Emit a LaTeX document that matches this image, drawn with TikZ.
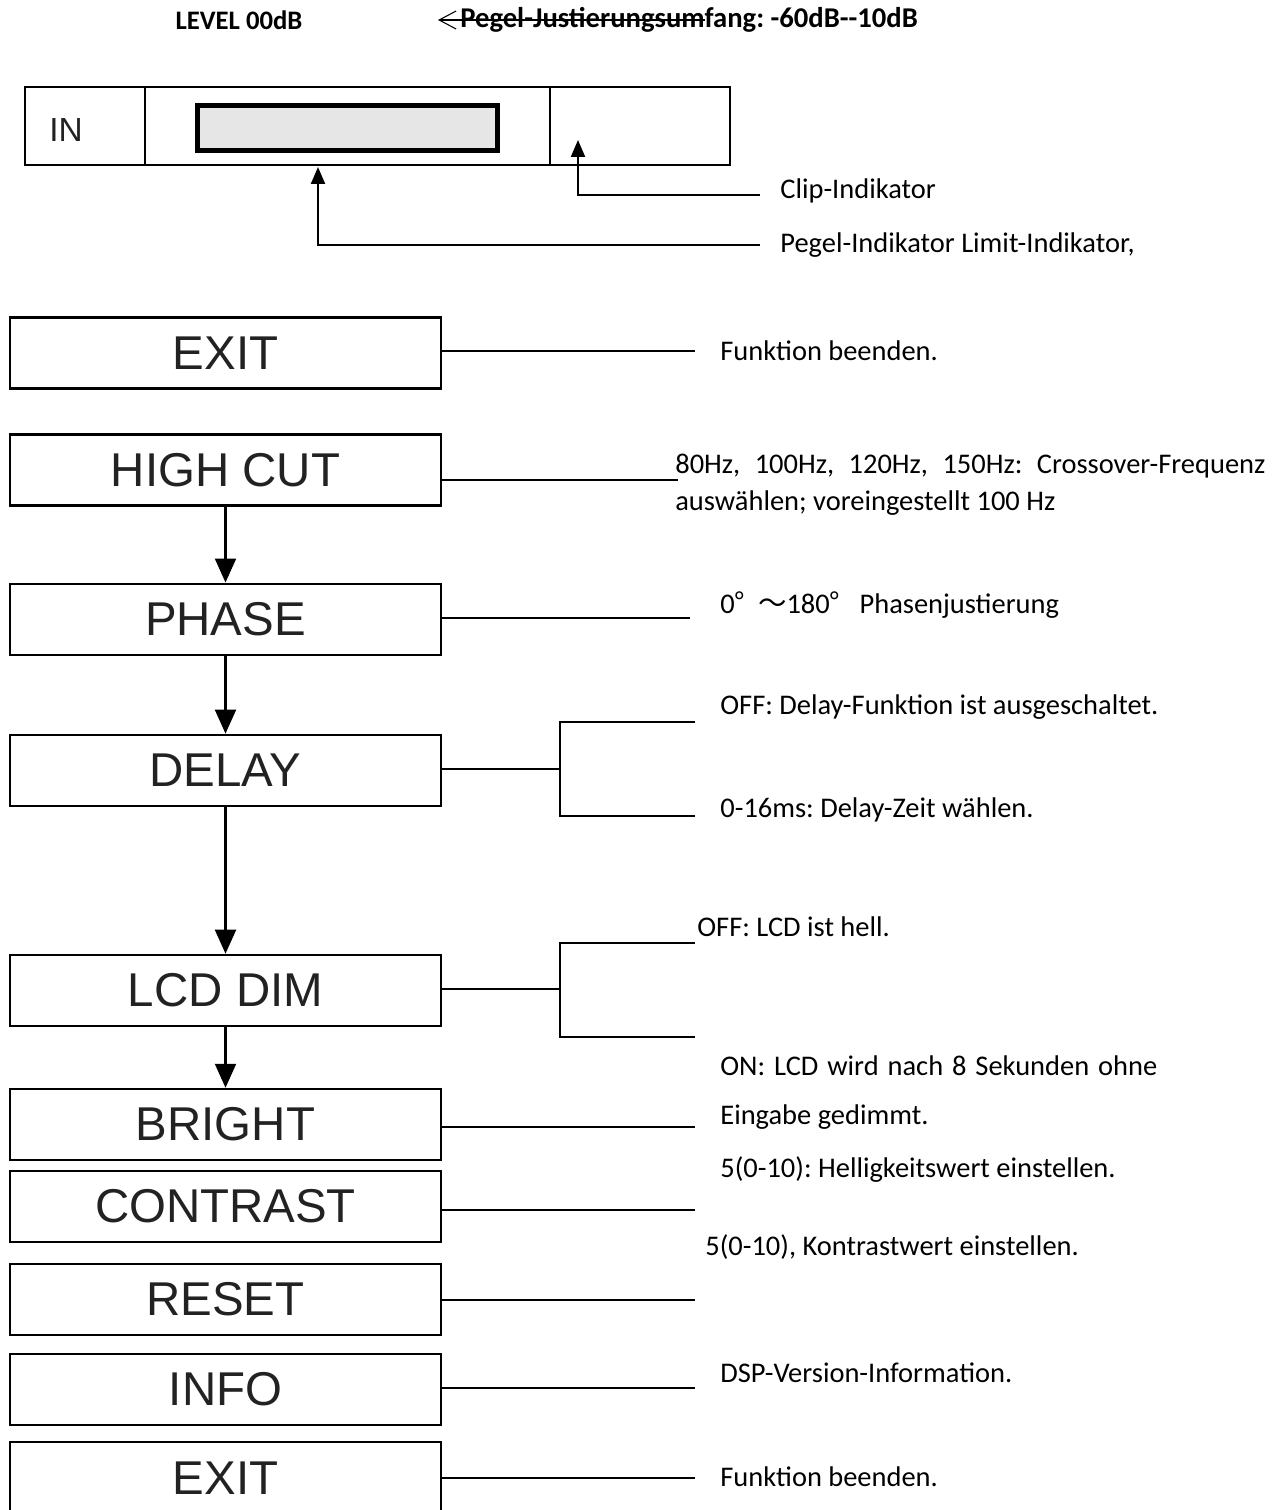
\documentclass[tikz,border=0pt]{standalone}
\usepackage{fontspec}
\setmainfont{Carlito}
\newfontfamily\boxfont{Liberation Sans}
\newfontfamily\cjk{Noto Sans CJK SC}
\usetikzlibrary{arrows.meta,positioning}
\definecolor{displaygray}{HTML}{E6E6E6}
\definecolor{labelgray}{HTML}{222222}
\frenchspacing

\begin{document}
\begin{tikzpicture}[
  x=0.02cm, y=-0.02cm,
  menubox/.style={
    draw, line width=1.2pt, minimum width=8.62cm, minimum height=1.42cm,
    font=\boxfont\fontsize{27}{30}\selectfont, text=labelgray
  },
  desc/.style={anchor=west, inner sep=0pt, font=\fontsize{16.2}{21}\selectfont},
  head/.style={inner sep=0pt, font=\bfseries\fontsize{15.2}{18}\selectfont},
  link/.style={line width=1.2pt},
  arrow/.style={line width=1.2pt, -{Triangle[length=0.48cm, width=0.42cm]}},
  pointer/.style={line width=1.2pt, -{Triangle[length=0.34cm, width=0.28cm]}}
]
\clip (0,0) rectangle (1280,1510);

% header
\node[head] (level) at (239,20) {LEVEL 00dB};
\node[head, anchor=west, font=\bfseries\fontsize{16.3}{18}\selectfont] (range) at (460,20) {Pegel-Justierungsumfang: -60dB-{}-10dB};
\coordinate (strikeend) at (705,20);
\coordinate (striketip) at (438,20);
\draw[line width=0.6pt, -{Straight Barb[length=0.34cm, width=0.36cm]}] (strikeend) -- (striketip);

% display panel
\node[draw, line width=1pt, minimum width=14.1cm, minimum height=1.56cm] (panel) at (377.5,126) {};
\coordinate (div1) at (145,126);
\coordinate (div2) at (550,126);
\draw[line width=1pt] (div1 |- panel.north) -- (div1 |- panel.south)
  (div2 |- panel.north) -- (div2 |- panel.south);
\node[draw, line width=2.8pt, fill=displaygray, minimum width=6cm, minimum height=0.9cm] (disp) at (347.5,128) {};
\node[font=\boxfont\fontsize{19}{22}\selectfont, text=labelgray] (in) at (66,130) {IN};

% indicator pointers
\coordinate (cliptip) at (578,140);
\coordinate (clipend) at (760,195);
\draw[pointer] (clipend) -- (cliptip |- clipend) -- (cliptip);
\coordinate (leveltip) at (318,167);
\coordinate (levelend) at (760,245);
\draw[pointer] (levelend) -- (leveltip |- levelend) -- (leveltip);
\node[desc] (clip) at (780,191) {Clip-Indikator};
\node[desc] (levelind) at (780,245) {Pegel-Indikator Limit-Indikator,};

% menu
\node[menubox] (exitA) at (225.5,353) {EXIT};
\node[menubox] (highcut) at (225.5,470) {HIGH CUT};
\node[menubox, below=1.52cm of highcut] (phase) {PHASE};
\node[menubox, below=1.56cm of phase] (delay) {DELAY};
\node[menubox, below=2.94cm of delay] (lcddim) {LCD DIM};
\node[menubox, below=1.22cm of lcddim] (bright) {BRIGHT};
\node[menubox, below=0.18cm of bright] (contrast) {CONTRAST};
\node[menubox, below=0.40cm of contrast] (reset) {RESET};
\node[menubox, below=0.34cm of reset] (info) {INFO};
\node[menubox, below=0.30cm of info] (exitB) {EXIT};

\draw[arrow] (highcut) -- (phase);
\draw[arrow] (phase) -- (delay);
\draw[arrow] (delay) -- (lcddim);
\draw[arrow] (lcddim) -- (bright);

% straight links
\foreach \b/\y/\x in {exitA/351/695, highcut/480/678, phase/618/690, bright/1127/695,
                      contrast/1210/695, reset/1300/695, info/1388/695, exitB/1478/695}{
  \coordinate (\b-end) at (\x,\y);
  \draw[link] (\b.east |- \b-end) -- (\b-end);
}

% forks
\coordinate (delayfork) at (560,769);
\coordinate (delayup) at (695,722);
\coordinate (delaydown) at (695,816);
\draw[link] (delay.east |- delayfork) -- (delayfork);
\draw[link] (delayup) -- (delayfork |- delayup) -- (delayfork |- delaydown) -- (delaydown);
\coordinate (lcdfork) at (560,989);
\coordinate (lcdup) at (695,943);
\coordinate (lcddown) at (695,1037);
\draw[link] (lcddim.east |- lcdfork) -- (lcdfork);
\draw[link] (lcdup) -- (lcdfork |- lcdup) -- (lcdfork |- lcddown) -- (lcddown);

% texts
\node[desc] (exitAtxt) at (720,351) {Funktion beenden.};
\node[desc, align=left] (hctxt) at (675,485) {\makebox[11.8cm][s]{80Hz,\ \ 100Hz,\ \ 120Hz,\ \ 150Hz:\ \ Crossover-Frequenz}\\auswählen; voreingestellt 100 Hz};
\node[desc] (phasetxt) at (720,605) {0{\cjk °\ \ ～}180{\cjk °}\ \ \ Phasenjustierung};
\node[desc] (delayoff) at (720,707) {OFF: Delay-Funktion ist ausgeschaltet.};
\node[desc] (delayms) at (720,810) {0-16ms: Delay-Zeit wählen.};
\node[desc] (lcdoff) at (697,927) {OFF: LCD ist hell.};
\node[desc] (lcdon) at (720,1066) {\makebox[8.74cm][s]{ON: LCD wird nach 8 Sekunden ohne}};
\node[desc] (lcdon2) at (720,1117) {Eingabe gedimmt.};
\node[desc] (brighttxt) at (720,1170) {5(0-10): Helligkeitswert einstellen.};
\node[desc] (contrasttxt) at (705,1247) {5(0-10), Kontrastwert einstellen.};
\node[desc] (infotxt) at (720,1373) {DSP-Version-Information.};
\node[desc] (exitBtxt) at (720,1477) {Funktion beenden.};
\end{tikzpicture}
\end{document}
